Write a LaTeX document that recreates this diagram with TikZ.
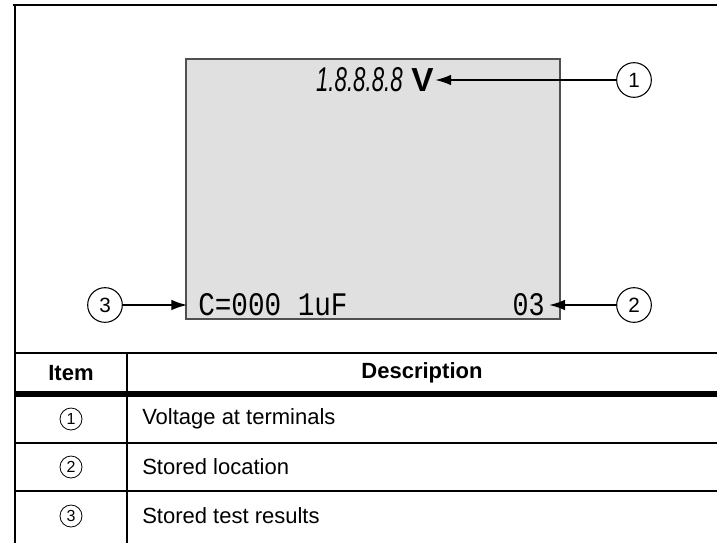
\documentclass[tikz,border=0pt]{standalone}
\usepackage{fontspec}
\setmainfont{Liberation Sans}
\newfontfamily\lcdfont{Liberation Mono}
\usepackage{xcolor}
\usepackage{graphicx}
\usetikzlibrary{arrows.meta, positioning}
\definecolor{lcdbg}{RGB}{224, 224, 224}
\definecolor{lcdedge}{RGB}{80, 80, 80}

\begin{document}
\begin{tikzpicture}[
          x=0.75pt, y=-0.75pt,
          frame/.style={line width=1.8pt, black},
          rule/.style={line width=1.5pt, black},
          callout/.style={draw, circle, line width=0.8pt, minimum size=26pt, inner sep=0pt,
                          font=\fontsize{15.5}{15.5}\selectfont},
          itemno/.style={draw, circle, line width=0.6pt, minimum size=16.5pt, inner sep=0pt,
                         font=\fontsize{12}{12}\selectfont},
          head/.style={font=\fontsize{16.5}{19}\selectfont\bfseries},
          desc/.style={anchor=west, inner sep=0pt, font=\fontsize{16.5}{19}\selectfont},
          arr/.style={-{Latex[length=12pt, width=8pt]}, line width=1.5pt},
        ]
        \useasboundingbox (0,0) rectangle (717,543);

        % outer frame
        \draw[frame] (13,5) -- (717,5);
        \draw[frame] (15,5) -- (15,543);

        % display
        \draw[line width=1.5pt, draw=lcdedge, fill=lcdbg] (186,59) rectangle (560,319);
        \node[inner sep=0pt, anchor=east] (digits) at (403,80)
             {\resizebox{65pt}{18pt}{\itshape 1.8.8.8.8}};
        \node[inner sep=1pt, right=5pt of digits, font=\fontsize{25}{25}\selectfont\bfseries] (volt) {V};
        \node[inner sep=0pt, anchor=west] (result) at (198,305)
             {\resizebox{112pt}{16.5pt}{\lcdfont C=000 1uF}};
        \node[inner sep=0pt, anchor=east] (loc) at (545,305)
             {\resizebox{24pt}{16.5pt}{\lcdfont 03}};

        % callouts
        \node[callout] (c1) at (634,80)  {1};
        \node[callout] (c2) at (634,305) {2};
        \node[callout] (c3) at (105,305) {3};

        \draw[arr] (c1) -- (volt);
        \draw[arr, shorten >=3pt] (c2) -- (loc);
        \draw[arr, shorten >=8pt] (c3) -- (result);

        % table
        \draw[rule] (15,353) -- (717,353);
        \draw[line width=3.8pt] (15,394) -- (717,394);
        \draw[rule] (15,443) -- (717,443);
        \draw[rule] (15,491) -- (717,491);
        \draw[rule] (127,353) -- (127,543);

        \node[head] (hitem) at (71,373)  {Item};
        \node[head] (hdesc) at (422,373) {Description};

        \node[itemno] (n1) at (71,419) {1};
        \node[itemno] (n2) at (71,467) {2};
        \node[itemno] (n3) at (71,516) {3};

        \node[desc] (d1) at (142,419) {Voltage at terminals};
        \node[desc] (d2) at (142,467) {Stored location};
        \node[desc] (d3) at (142,516) {Stored test results};
      \end{tikzpicture}
\end{document}
